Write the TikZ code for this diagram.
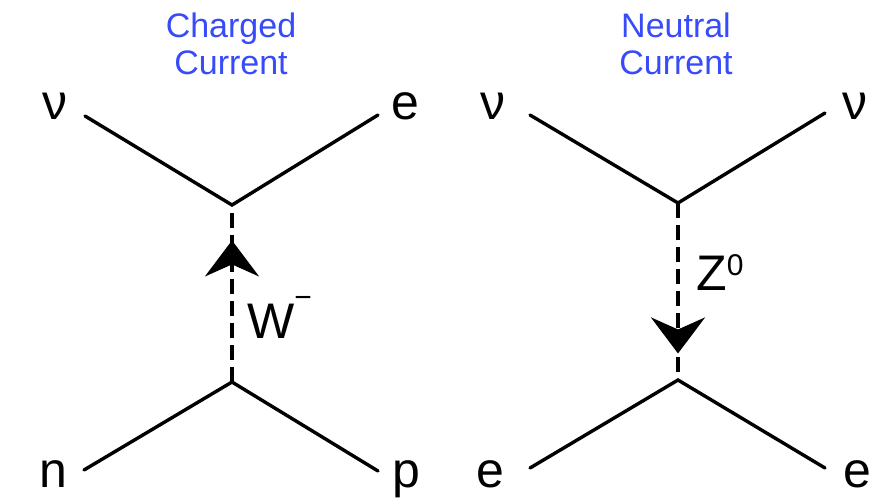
\documentclass[tikz,border=0pt]{standalone}
\usepackage{fontspec}
\setmainfont{Liberation Sans}
\usetikzlibrary{arrows.meta,decorations.markings}
\definecolor{titleblue}{RGB}{55,75,250}
\begin{document}
\begin{tikzpicture}[x=1pt,y=-1pt,
  lbl/.style={inner sep=0pt,anchor=base,font=\fontsize{50}{60}\selectfont},
  ttl/.style={inner sep=0pt,anchor=base,align=center,text=titleblue,font=\fontsize{34}{37}\selectfont},
  fermion/.style={line width=3.4pt,line cap=round,line join=miter},
  boson/.style={line width=3.4pt,dash pattern=on 15pt off 7pt},
  bosonarrow/.style={postaction={decorate,decoration={markings,
      mark=at position #1 with {\arrow{Stealth[length=36pt,width=54pt,inset=12pt]}}}}}
]
\useasboundingbox (0,0) rectangle (870,499);
\fill[white] (0,0) rectangle (870,499);

% titles
\node[ttl] (t1) at (231,74) {Charged\\Current};
\node[ttl] (t2) at (676,74) {Neutral\\Current};

% left diagram
\coordinate (a1) at (85,116);
\coordinate (a2) at (378,115);
\coordinate (av) at (232,205);
\coordinate (bv) at (232,382);
\coordinate (b1) at (84,470);
\coordinate (b2) at (378,471);
\node[lbl] (nu1) at (55,119) {ν};
\node[lbl] (e1) at (405,119) {e};
\node[lbl] (n1) at (53,487) {n};
\node[lbl] (p1) at (406,487) {p};
\draw[fermion] (a1) -- (av) -- (a2);
\draw[fermion] (b1) -- (bv) -- (b2);
\draw[boson,bosonarrow=0.80] (bv) -- (av);
\node[lbl,anchor=base west] (w) at (247,338) {W\raisebox{31pt}{\fontsize{30}{30}\selectfont −}};

% right diagram
\coordinate (c1) at (530,115);
\coordinate (c2) at (825,113);
\coordinate (cv) at (678,203);
\coordinate (dv) at (678,380);
\coordinate (d1) at (530,468);
\coordinate (d2) at (825,468);
\node[lbl] (nu2) at (493,119) {ν};
\node[lbl] (nu3) at (855,119) {ν};
\node[lbl] (e2) at (490,487) {e};
\node[lbl] (e3) at (857,487) {e};
\draw[fermion] (c1) -- (cv) -- (c2);
\draw[fermion] (d1) -- (dv) -- (d2);
\draw[boson,bosonarrow=0.85] (cv) -- (dv);
\node[lbl,anchor=base west] (z) at (696,290) {Z\raisebox{15pt}{\fontsize{30}{30}\selectfont 0}};
\end{tikzpicture}
\end{document}
